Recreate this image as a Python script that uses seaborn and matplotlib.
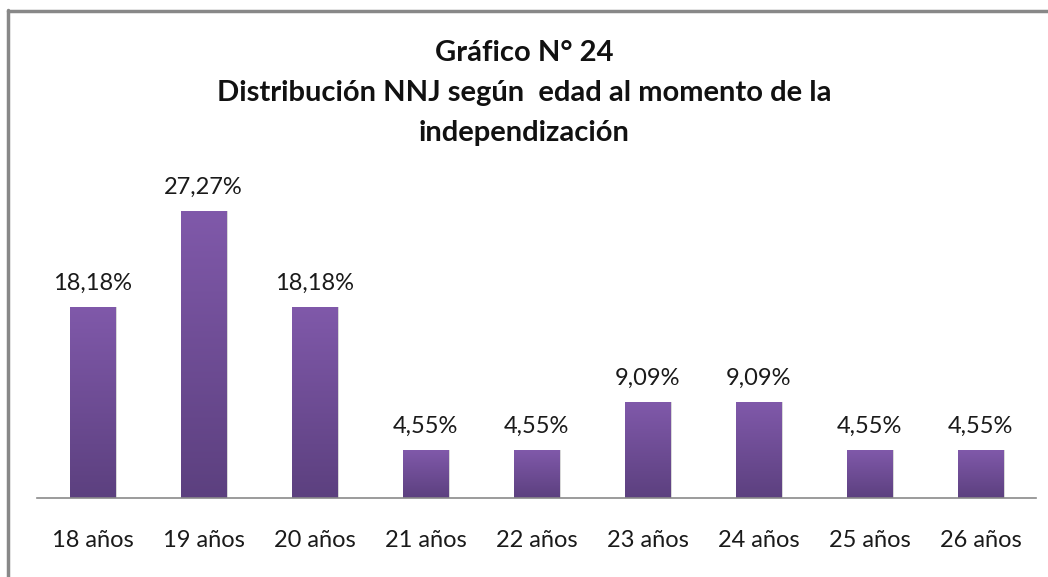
import numpy as np
import pandas as pd
import seaborn as sns
from matplotlib import pyplot as plt
from matplotlib.colors import LinearSegmentedColormap
from matplotlib.lines import Line2D

# data
ages = ["18 años", "19 años", "20 años", "21 años", "22 años",
        "23 años", "24 años", "25 años", "26 años"]
pct = [18.18, 27.27, 18.18, 4.55, 4.55, 9.09, 9.09, 4.55, 4.55]
title = "Gráfico N° 24\nDistribución NNJ según  edad al momento de la\nindependización"

df = pd.DataFrame({"edad": ages, "pct": pct})

sns.set_theme(style="white")
plt.rcParams['font.family'] = ['Lato', 'DejaVu Sans']

fig = plt.figure(figsize=(10.48, 5.77), dpi=100)
ax = fig.add_axes([0.0353, 0.1369, 0.9532, 0.547])

sns.barplot(x="edad", y="pct", data=df, color="#6a4c93", width=0.41,
            ax=ax, saturation=1)

# gradient fill, lighter at the top like the original
cmap = LinearSegmentedColormap.from_list("purp", ["#5c407f", "#8059aa"])
grad = np.linspace(0, 1, 256).reshape(-1, 1)
for p in ax.patches:
    x0, y0 = p.get_x(), p.get_y()
    w, h = p.get_width(), p.get_height()
    p.set_facecolor("none")
    p.set_edgecolor("none")
    im = ax.imshow(grad, cmap=cmap, origin="lower", aspect="auto",
                   extent=[x0, x0 + w, y0, y0 + h], zorder=2)
    im.set_clip_path(p)
    # faint shadow at the right side
    ax.add_patch(plt.Rectangle((x0 + w, y0), 0.012, h, color="#d8d8d8",
                               zorder=1, lw=0))

for i, v in enumerate(pct):
    ax.text(i, v + 1.25, f"{v:.2f}%".replace(".", ","), ha="center",
            va="bottom", fontsize=17, color="#1a1a1a")

ax.set_xlim(-0.5, len(ages) - 0.5)
ax.set_ylim(0, 30)
ax.set(xlabel="", ylabel="", yticks=[])
ax.tick_params(axis="x", length=0, pad=23, labelsize=17, labelcolor="#1a1a1a")
for s in ["top", "right", "left"]:
    ax.spines[s].set_visible(False)
ax.spines["bottom"].set_color("#8a8a8a")
ax.spines["bottom"].set_linewidth(1.2)

fig.text(0.5, 0.93, title, ha="center", va="top", fontsize=21,
         fontweight="bold", linespacing=1.65, color="#111111")

# chart frame (only top and left edges visible in the original)
fig.add_artist(Line2D([0.0076, 0.0076], [0, 0.983], transform=fig.transFigure,
                      color="#888888", lw=2.5))
fig.add_artist(Line2D([0.0076, 1.0], [0.981, 0.981], transform=fig.transFigure,
                      color="#888888", lw=2.5))

fig.savefig("out.png", dpi=100)
